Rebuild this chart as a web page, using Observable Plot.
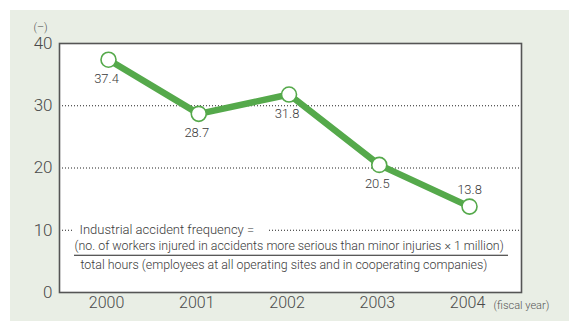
<!DOCTYPE html>
<html>
<head>
<meta charset="utf-8">
<script src="https://cdn.jsdelivr.net/npm/d3@7"></script>
<script src="https://cdn.jsdelivr.net/npm/@observablehq/plot@0.6"></script>
<style>
  html, body { margin: 0; padding: 0; background: #fff; }
  #chart svg {
    display: block;
    background: linear-gradient(#e9eee5, #e9eee5) no-repeat 10px 10px / 559px 311px;
  }
</style>
</head>
<body>
<div id="chart"></div>
<script>
const years = [2000, 2001, 2002, 2003, 2004];
const frequency = [37.4, 28.7, 31.8, 20.5, 13.8];
const labelAbove = [false, false, false, false, true];
const yTicks = [0, 10, 20, 30, 40];
const gridLines = [10, 20, 30];
const formulaHead = "Industrial accident frequency =";
const formulaNumerator = "(no. of workers injured in accidents more serious than minor injuries \u00d7 1 million)";
const formulaDenominator = "total hours (employees at all operating sites and in cooperating companies)";

const data = years.map((year, i) => ({year, value: frequency[i], above: labelAbove[i]}));
const green = "#55a94b";
const textColor = "#3a3a3a";
const font = "Roboto, 'Liberation Sans', Arial, sans-serif";

const chart = Plot.plot({
  width: 569,
  height: 321,
  marginLeft: 59,
  marginRight: 48,
  marginTop: 43,
  marginBottom: 29,
  x: {type: "linear", domain: [1999.457, 2004.576], label: null},
  y: {domain: [0, 40], label: null},
  style: {fontFamily: font, fontWeight: 300, color: "#444", overflow: "visible"},
  marks: [
    Plot.frame({fill: "white", stroke: null}),
    Plot.ruleY(gridLines, {stroke: "#222", strokeDasharray: "1,2", strokeWidth: 1}),
    Plot.frame({stroke: "#555", strokeWidth: 1.6}),
    Plot.axisY({ticks: yTicks, tickSize: 0, tickPadding: 7, fontSize: 17, fill: "#4a4a4a"}),
    Plot.axisX({ticks: years, tickFormat: d => String(d), tickSize: 0, tickPadding: 4, fontSize: 16, fill: "#4a4a4a", dx: -2}),
    Plot.text(["(\u2013)"], {frameAnchor: "top-left", dx: -19, dy: -16, textAnchor: "middle", lineAnchor: "middle", fontSize: 11, fill: "#555"}),
    Plot.text(["(fiscal year)"], {frameAnchor: "bottom-right", dx: -28, dy: 13, textAnchor: "start", lineAnchor: "middle", fontSize: 11, fill: "#555"}),
    Plot.text([formulaHead], {y: () => 10, frameAnchor: "left", dx: 20, textAnchor: "start", fontSize: 13, fill: textColor}),
    Plot.text([formulaNumerator], {y: () => 10, frameAnchor: "left", dx: 15, dy: 16, textAnchor: "start", fontSize: 12.4, fill: textColor}),
    Plot.ruleY([10], {dy: 25, insetLeft: 15, insetRight: 13, stroke: "#222", strokeWidth: 1.2}),
    Plot.text([formulaDenominator], {y: () => 10, frameAnchor: "left", dx: 21, dy: 35, textAnchor: "start", fontSize: 12.4, fill: textColor}),
    Plot.line(data, {x: "year", y: "value", stroke: green, strokeWidth: 6.5}),
    Plot.dot(data, {x: "year", y: "value", r: 7.5, fill: "white", stroke: green, strokeWidth: 1.6}),
    Plot.text(data.filter(d => !d.above), {x: "year", y: "value", text: d => d.value.toFixed(1), dy: 19, dx: -2, fontSize: 13, fill: textColor}),
    Plot.text(data.filter(d => d.above), {x: "year", y: "value", text: d => d.value.toFixed(1), dy: -17, fontSize: 13, fill: textColor})
  ]
});

document.getElementById("chart").appendChild(chart);

// white backing behind the formula heading so the dotted gridline is interrupted
const head = Array.from(chart.querySelectorAll("text")).find(t => t.textContent === formulaHead);
if (head) {
  const bb = head.getBBox();
  const rect = document.createElementNS("http://www.w3.org/2000/svg", "rect");
  rect.setAttribute("x", bb.x - 6);
  rect.setAttribute("y", bb.y);
  rect.setAttribute("width", bb.width + 20);
  rect.setAttribute("height", bb.height);
  rect.setAttribute("fill", "white");
  const tf = head.getAttribute("transform");
  if (tf) rect.setAttribute("transform", tf);
  head.parentNode.insertBefore(rect, head);
}
</script>
</body>
</html>
